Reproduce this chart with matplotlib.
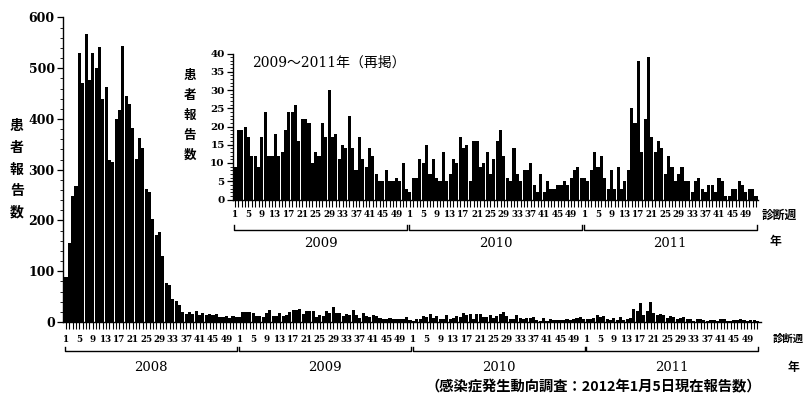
import matplotlib
matplotlib.use('Agg')
import matplotlib.pyplot as plt
import numpy as np
from matplotlib.ticker import FixedLocator, MultipleLocator

# ---------------- data ----------------
years = ['2008', '2009', '2010', '2011']
week_labels = [1, 5, 9, 13, 17, 21, 25, 29, 33, 37, 41, 45, 49]

y2008 = [88, 156, 248, 268, 531, 470, 567, 477, 531, 500,
         541, 440, 463, 319, 315, 400, 418, 544, 445, 430,
         382, 322, 362, 342, 263, 257, 202, 171, 178, 130,
         76, 72, 46, 41, 33, 20, 16, 20, 15, 22,
         13, 18, 13, 16, 13, 15, 10, 10, 12, 8,
         12, 10]
y2009 = [9, 19, 19, 20, 17, 12, 12, 9, 17, 24,
         12, 12, 18, 12, 13, 19, 24, 24, 26, 16,
         22, 22, 21, 10, 13, 12, 21, 17, 30, 17,
         18, 11, 15, 14, 23, 14, 8, 17, 11, 9,
         14, 12, 7, 5, 5, 8, 5, 5, 6, 5,
         10, 3]
y2010 = [2, 6, 6, 11, 10, 15, 7, 11, 6, 5,
         13, 5, 7, 11, 10, 17, 14, 15, 5, 16,
         16, 9, 10, 13, 7, 11, 16, 19, 12, 6,
         5, 14, 7, 5, 8, 8, 10, 4, 2, 7,
         2, 5, 3, 3, 4, 4, 5, 4, 6, 8,
         9, 6]
y2011 = [6, 5, 8, 13, 9, 12, 6, 3, 8, 3,
         9, 3, 5, 8, 25, 21, 38, 13, 22, 39,
         17, 13, 16, 14, 7, 12, 9, 5, 7, 9,
         5, 5, 2, 5, 6, 3, 2, 4, 4, 2,
         6, 5, 1, 1, 3, 3, 5, 4, 2, 3,
         3, 1]

main_ylabel = '患者報告数'
inset_title = '2009～2011年（再掲）'
week_axis_label = '診断週'
year_axis_label = '年'
source_note = '（感染症発生動向調査：2012年1月5日現在報告数）'

# ---------------- figure ----------------
W, H = 806, 399
fig = plt.figure(figsize=(W / 100, H / 100), dpi=100)
cjk = ['Noto Sans CJK JP', 'DejaVu Sans']
num_font = 'DejaVu Serif'


def fx(px):
    return px / W


def fy(py):
    return 1 - py / H


def style_axes(ax, nweeks, nyears, ytick_fs, xtick_fs, major_len, pad_x):
    for s in ['top', 'right']:
        ax.spines[s].set_visible(False)
    for s in ['left', 'bottom']:
        ax.spines[s].set_linewidth(1.0)
    pos = [k * 52 + (w - 1) for k in range(nyears) for w in week_labels]
    lab = [str(w) for k in range(nyears) for w in week_labels]
    ax.xaxis.set_major_locator(FixedLocator(pos))
    ax.set_xticklabels(lab, fontfamily=num_font, fontweight='bold', fontsize=xtick_fs)
    ax.xaxis.set_minor_locator(FixedLocator(np.arange(nweeks)))
    ax.tick_params(axis='x', which='both', direction='out', length=major_len,
                   width=0.8, pad=pad_x)
    ax.tick_params(axis='y', which='major', direction='out', length=4, width=0.9, pad=2)
    ax.tick_params(axis='y', which='minor', direction='out', length=2, width=0.6)
    for t in ax.get_yticklabels():
        t.set_fontfamily(num_font)
        t.set_fontweight('bold')
        t.set_fontsize(ytick_fs)


def brackets(ax, nyears, y_bar, y_tip, y_lab, lab_fs, labels):
    tr = ax.get_xaxis_transform()
    for k in range(nyears):
        x0 = k * 52 - 0.2
        x1 = k * 52 + 51.3
        ax.plot([x0, x0, x1, x1], [y_tip, y_bar, y_bar, y_tip], color='black',
                lw=1.0, transform=tr, clip_on=False)
        ax.text(k * 52 + 25.5, y_lab, labels[k], transform=tr, ha='center',
                va='center', fontsize=lab_fs, fontfamily=num_font)


# ---- main axes ----
main_vals = y2008 + y2009 + y2010 + y2011
ax = fig.add_axes([fx(63), fy(322), 698.4 / W, (322 - 17.5) / H])
ax.bar(np.arange(len(main_vals)), main_vals, width=0.92, color='black', linewidth=0)
ax.set_xlim(-0.9, 208.2)
ax.set_ylim(0, 600)
ax.yaxis.set_major_locator(MultipleLocator(100))
ax.yaxis.set_minor_locator(MultipleLocator(20))
style_axes(ax, len(main_vals), 4, 9, 6.3, 5, 4)
brackets(ax, 4, -0.0936, -0.082, -0.148, 9.5, years)

# ---- inset axes ----
inset_vals = y2009 + y2010 + y2011
axi = fig.add_axes([fx(233), fy(199.5), 525 / W, 146 / H])
axi.set_facecolor('none')
axi.bar(np.arange(len(inset_vals)), inset_vals, width=0.92, color='black', linewidth=0)
axi.set_xlim(-0.6, 155.6)
axi.set_ylim(0, 40)
axi.yaxis.set_major_locator(MultipleLocator(5))
axi.yaxis.set_minor_locator(MultipleLocator(1))
style_axes(axi, len(inset_vals), 3, 7.5, 6.3, 5, 2.5)
brackets(axi, 3, -0.212, -0.178, -0.298, 9.5, years[1:])

# ---- texts ----
def vertical(text, x, y0, step, fs):
    for i, ch in enumerate(text):
        fig.text(fx(x), fy(y0 + i * step), ch, ha='center', va='center',
                 fontsize=fs, fontfamily=cjk, fontweight='bold')


vertical(main_ylabel, 17, 126, 21.75, 10)
vertical(main_ylabel, 190, 75, 20, 9)

fig.text(fx(252), fy(62.5), inset_title, ha='left', va='center', fontsize=10,
         fontfamily=[num_font, 'Noto Sans CJK JP'])

fig.text(fx(804), fy(339), week_axis_label, ha='right', va='center', fontsize=7.5,
         fontfamily=cjk, fontweight='bold')
fig.text(fx(793), fy(367), year_axis_label, ha='center', va='center', fontsize=8.5,
         fontfamily=cjk, fontweight='bold')
fig.text(fx(762), fy(215), week_axis_label, ha='left', va='center', fontsize=8.5,
         fontfamily=cjk, fontweight='bold')
fig.text(fx(775), fy(242), year_axis_label, ha='center', va='center', fontsize=8.5,
         fontfamily=cjk, fontweight='bold')
fig.text(fx(593), fy(387), source_note, ha='center', va='center', fontsize=10.3,
         fontfamily=cjk, fontweight='bold')

fig.savefig('out.png', dpi=100)
